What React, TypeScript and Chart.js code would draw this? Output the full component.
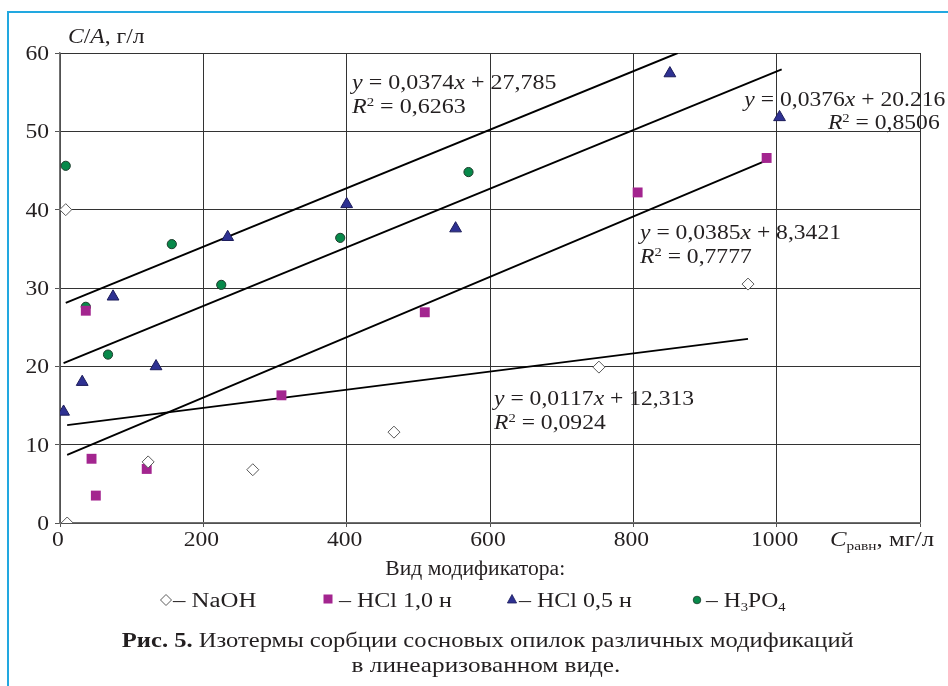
import React, { useEffect, useRef } from "react";
import { Chart, registerables } from "chart.js";

Chart.register(...registerables);

// ---------- data ----------
const yTickValues = [0, 10, 20, 30, 40, 50, 60];
const xTickLabels = ["0", "200", "400", "600", "800", "1000", ""];

const naohX = [10, 8, 123, 269, 466, 752, 960];
const naohY = [0, 40, 7.8, 6.8, 11.6, 19.9, 30.5];

const hcl1X = [36, 44, 50, 121, 309, 509, 806, 986];
const hcl1Y = [27.1, 8.2, 3.5, 6.9, 16.3, 26.9, 42.2, 46.6];

const hcl05X = [5, 31, 74, 134, 234, 400, 552, 851, 1004];
const hcl05Y = [14.2, 18.0, 28.9, 20.0, 36.5, 40.7, 37.6, 57.4, 51.8];

const h3po4X = [8, 36, 67, 156, 225, 391, 570];
const h3po4Y = [45.6, 27.6, 21.5, 35.6, 30.4, 36.4, 44.8];

// trend line end points
const trendAX = [8, 862];
const trendAY = [28.1, 60.0];
const trendBX = [5, 1007];
const trendBY = [20.4, 57.9];
const trendCX = [10, 986];
const trendCY = [8.7, 46.3];
const trendDX = [10, 960];
const trendDY = [12.5, 23.5];

// ---------- style ----------
const FONT = '"Liberation Serif", "Times New Roman", serif';
const SX = 1.18;
const INK = "#231f20";
const W = 948;
const H = 686;

const pts = (xs: number[], ys: number[]) => xs.map((x, i) => ({ x, y: ys[i] }));

const tickPlugin = {
  id: "stretchedTicks",
  afterDraw(chart: any) {
    const ctx = chart.ctx as CanvasRenderingContext2D;
    const xs = chart.scales.x;
    const ys = chart.scales.y;
    ctx.save();
    ctx.fillStyle = INK;
    ctx.font = `20px ${FONT}`;
    ctx.textBaseline = "alphabetic";
    ctx.textAlign = "right";
    ys.ticks.forEach((t: any) => {
      const py = ys.getPixelForValue(t.value);
      ctx.save();
      ctx.translate(xs.left - 11, py + 7);
      ctx.scale(SX, 1);
      ctx.fillText(String(t.value), 0, 0);
      ctx.restore();
    });
    ctx.textAlign = "center";
    xs.ticks.forEach((t: any, i: number) => {
      const label = xTickLabels[i] ?? "";
      if (!label) return;
      const px = xs.getPixelForValue(t.value);
      ctx.save();
      ctx.translate(px - 2, ys.bottom + 23);
      ctx.scale(SX, 1);
      ctx.fillText(label, 0, 0);
      ctx.restore();
    });
    ctx.restore();
  },
};

type TProps = {
  x: number;
  base: number;
  size?: number;
  sx?: number;
  align?: "left" | "right" | "center";
  children: React.ReactNode;
};

function T({ x, base, size = 20, sx = SX, align = "left", children }: TProps) {
  const top = base - 0.8375 * size;
  const common: React.CSSProperties = {
    position: "absolute",
    top,
    fontFamily: FONT,
    fontSize: size,
    lineHeight: `${size}px`,
    color: INK,
    whiteSpace: "nowrap",
  };
  if (align === "left") {
    return (
      <div style={{ ...common, left: x, transform: `scaleX(${sx})`, transformOrigin: "left center" }}>
        {children}
      </div>
    );
  }
  if (align === "right") {
    return (
      <div style={{ ...common, right: W - x, transform: `scaleX(${sx})`, transformOrigin: "right center" }}>
        {children}
      </div>
    );
  }
  return (
    <div style={{ ...common, left: x - W / 2, width: W, textAlign: "center" }}>
      <span style={{ display: "inline-block", transform: `scaleX(${sx})`, transformOrigin: "center" }}>
        {children}
      </span>
    </div>
  );
}

const Sup = ({ children }: { children: React.ReactNode }) => (
  <span style={{ fontSize: "0.62em", position: "relative", top: "-0.55em" }}>{children}</span>
);
const Sub = ({ children }: { children: React.ReactNode }) => (
  <span style={{ fontSize: "0.62em", position: "relative", top: "0.3em" }}>{children}</span>
);

const NAOH_FILL = "#ffffff";
const NAOH_EDGE = "#5a5a5a";
const HCL1_COL = "#a3258f";
const HCL05_COL = "#2e3192";
const HCL05_EDGE = "#1c1c5a";
const H3PO4_COL = "#07894a";
const H3PO4_EDGE = "#1d3b2b";

function Marker({ kind, cx, cy }: { kind: string; cx: number; cy: number }) {
  const s = 14;
  const style: React.CSSProperties = { position: "absolute", left: cx - s / 2, top: cy - s / 2 };
  let shape: React.ReactNode = null;
  if (kind === "diamond")
    shape = <polygon points="7,1.5 12.5,7 7,12.5 1.5,7" fill="#fff" stroke={NAOH_EDGE} strokeWidth={1} />;
  if (kind === "square") shape = <rect x={2.5} y={2.5} width={9} height={9} fill={HCL1_COL} />;
  if (kind === "triangle")
    shape = <polygon points="7,2.5 11.6,11 2.4,11" fill={HCL05_COL} stroke={HCL05_EDGE} strokeWidth={0.8} />;
  if (kind === "circle") shape = <circle cx={7} cy={7} r={3.8} fill={H3PO4_COL} stroke={H3PO4_EDGE} strokeWidth={0.8} />;
  return (
    <svg width={s} height={s} style={style}>
      {shape}
    </svg>
  );
}

export default function App() {
  const ref = useRef<HTMLCanvasElement | null>(null);

  useEffect(() => {
    if (!ref.current) return;
    const trend = (xs: number[], ys: number[]) => ({
      type: "scatter" as const,
      data: pts(xs, ys),
      showLine: true,
      borderColor: "#000000",
      borderWidth: 1.9,
      pointRadius: 0,
      pointHoverRadius: 0,
      fill: false,
    });
    const chart = new Chart(ref.current, {
      type: "scatter",
      data: {
        datasets: [
          {
            label: "NaOH",
            data: pts(naohX, naohY),
            pointStyle: "rectRot",
            pointRadius: 6,
            backgroundColor: NAOH_FILL,
            borderColor: NAOH_EDGE,
            borderWidth: 1,
          },
          {
            label: "HCl 1,0 н",
            data: pts(hcl1X, hcl1Y),
            pointStyle: "rect",
            pointRadius: 7,
            backgroundColor: HCL1_COL,
            borderColor: HCL1_COL,
            borderWidth: 0,
          },
          {
            label: "HCl 0,5 н",
            data: pts(hcl05X, hcl05Y),
            pointStyle: "triangle",
            pointRadius: 6.8,
            backgroundColor: HCL05_COL,
            borderColor: HCL05_EDGE,
            borderWidth: 1,
          },
          {
            label: "H3PO4",
            data: pts(h3po4X, h3po4Y),
            pointStyle: "circle",
            pointRadius: 4.6,
            backgroundColor: H3PO4_COL,
            borderColor: H3PO4_EDGE,
            borderWidth: 1,
          },
          trend(trendAX, trendAY),
          trend(trendBX, trendBY),
          trend(trendCX, trendCY),
          trend(trendDX, trendDY),
        ] as any,
      },
      options: {
        animation: false,
        responsive: false,
        devicePixelRatio: 1,
        events: [],
        layout: { padding: { left: 0, top: 53, right: W - 920, bottom: 0 } },
        plugins: {
          legend: { display: false },
          tooltip: { enabled: false },
          title: { display: false },
        },
        scales: {
          x: {
            type: "linear",
            min: 0,
            max: 1200,
            ticks: {
              stepSize: 200,
              display: false,
              callback: (_v: any, i: number) => xTickLabels[i] ?? "",
            },
            grid: { color: "#333333", lineWidth: 1, drawTicks: true, tickLength: 4, tickColor: "#555" },
            border: { color: "#707070", width: 1.5 },
            afterFit: (s: any) => {
              s.height = H - 523;
            },
          },
          y: {
            type: "linear",
            min: 0,
            max: 60,
            afterBuildTicks: (s: any) => {
              s.ticks = yTickValues.map((v) => ({ value: v }));
            },
            ticks: { display: false },
            grid: { color: "#333333", lineWidth: 1, drawTicks: true, tickLength: 5, tickColor: "#555" },
            border: { color: "#707070", width: 1.5 },
            afterFit: (s: any) => {
              s.width = 60;
            },
          },
        },
      } as any,
      plugins: [tickPlugin],
    });
    return () => chart.destroy();
  }, []);

  return (
    <div style={{ position: "absolute", left: 0, top: 0, width: W, height: H, background: "#fff", overflow: "hidden" }}>
      <canvas ref={ref} width={W} height={H} style={{ position: "absolute", left: 0, top: 0, width: W, height: H }} />
      <div
        style={{
          position: "absolute",
          left: 7,
          top: 11,
          width: W,
          height: H,
          borderLeft: "2px solid #22a8e0",
          borderTop: "2px solid #22a8e0",
          pointerEvents: "none",
        }}
      />
      {/* axis titles */}
      <T x={68} base={43}>
        <i>C</i>/<i>A</i>, г/л
      </T>
      <T x={830} base={546} sx={1.24}>
        <i>C</i>
        <Sub>равн</Sub>, мг/л
      </T>

      {/* regression annotations */}
      <T x={352} base={89} sx={1.2}>
        <i>y</i> = 0,0374<i>x</i> + 27,785
      </T>
      <T x={352} base={113} sx={1.2}>
        <i>R</i>
        <Sup>2</Sup> = 0,6263
      </T>
      <T x={945} base={106} align="right">
        <i>y</i> = 0,0376<i>x</i> + 20.216
      </T>
      <T x={940} base={129} align="right">
        <i>R</i>
        <Sup>2</Sup> = 0,8506
      </T>
      <T x={640} base={239}>
        <i>y</i> = 0,0385<i>x</i> + 8,3421
      </T>
      <T x={640} base={263}>
        <i>R</i>
        <Sup>2</Sup> = 0,7777
      </T>
      <T x={494} base={405}>
        <i>y</i> = 0,0117<i>x</i> + 12,313
      </T>
      <T x={494} base={429}>
        <i>R</i>
        <Sup>2</Sup> = 0,0924
      </T>

      {/* legend */}
      <T x={475} base={575} align="center" sx={1.08}>
        Вид модификатора:
      </T>
      <Marker kind="diamond" cx={166} cy={600} />
      <T x={173} base={607} sx={1.24}>
        – NaOH
      </T>
      <Marker kind="square" cx={328} cy={599} />
      <T x={339} base={607} sx={1.2}>
        – HCl 1,0 н
      </T>
      <Marker kind="triangle" cx={512} cy={599} />
      <T x={519} base={607} sx={1.2}>
        – HCl 0,5 н
      </T>
      <Marker kind="circle" cx={697} cy={600} />
      <T x={706} base={607}>
        – H<Sub>3</Sub>PO<Sub>4</Sub>
      </T>

      {/* caption */}
      <T x={488} base={648} align="center" size={21} sx={1.17}>
        <b>Рис. 5.</b> Изотермы сорбции сосновых опилок различных модификаций
      </T>
      <T x={486} base={673} align="center" size={21} sx={1.2}>
        в линеаризованном виде.
      </T>
    </div>
  );
}
